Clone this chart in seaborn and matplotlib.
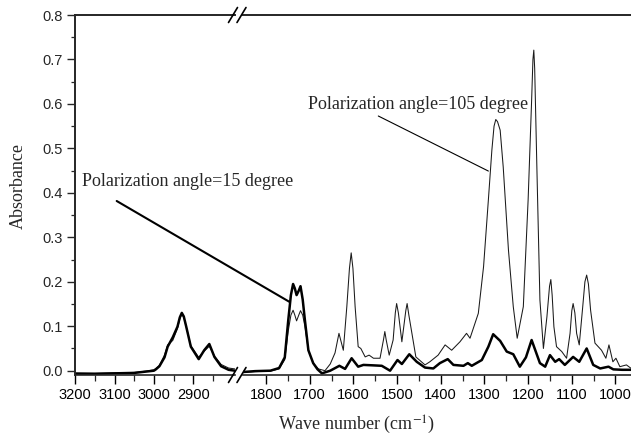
import numpy as np
import pandas as pd
import matplotlib
matplotlib.use("Agg")
import matplotlib.pyplot as plt
from matplotlib.lines import Line2D
from matplotlib.ticker import FixedLocator
import seaborn as sns

# ---------------- data ----------------
# high-wavenumber segment (C-H stretching region)
wn_left = [3200, 3150, 3100, 3050, 3020, 3000, 2995, 2986, 2973, 2965, 2952,
           2940, 2934, 2929, 2924, 2918, 2906, 2886, 2872, 2859, 2846, 2829,
           2810, 2794]
abs15_left = [-0.007, -0.007, -0.006, -0.005, -0.002, 0.0, 0.003, 0.01, 0.03,
              0.054, 0.075, 0.099, 0.12, 0.13, 0.122, 0.10, 0.054, 0.026,
              0.046, 0.06, 0.031, 0.01, 0.002, 0.0]
abs105_left = [-0.005, -0.006, -0.005, -0.004, -0.001, 0.002, 0.005, 0.012,
               0.035, 0.058, 0.068, 0.095, 0.117, 0.127, 0.12, 0.10, 0.056,
               0.03, 0.044, 0.055, 0.033, 0.014, 0.006, 0.004]

# fingerprint segment, 15 degree (thick line)
wn15_right = [1853, 1825, 1790, 1770, 1757, 1749, 1743, 1738, 1734, 1730,
              1725, 1721, 1716, 1711, 1703, 1692, 1682, 1672, 1653, 1632,
              1619, 1604, 1589, 1577, 1555, 1535, 1516, 1499, 1489, 1472,
              1455, 1436, 1417, 1402, 1384, 1371, 1348, 1338, 1329, 1306,
              1291, 1280, 1264, 1249, 1234, 1219, 1205, 1192, 1173, 1161,
              1150, 1138, 1129, 1116, 1097, 1083, 1066, 1051, 1035, 1016,
              1005, 985, 964]
abs15_right = [-0.003, -0.001, 0.0, 0.006, 0.03, 0.114, 0.17, 0.195, 0.185,
               0.17, 0.18, 0.19, 0.16, 0.114, 0.046, 0.017, 0.003, -0.006,
               0.0, 0.011, 0.004, 0.028, 0.009, 0.013, 0.012, 0.011, 0.0,
               0.024, 0.015, 0.037, 0.02, 0.007, 0.005, 0.017, 0.026, 0.013,
               0.011, 0.017, 0.011, 0.024, 0.054, 0.082, 0.067, 0.043, 0.037,
               0.009, 0.03, 0.069, 0.017, 0.009, 0.035, 0.02, 0.026, 0.013,
               0.031, 0.02, 0.05, 0.013, 0.005, 0.009, 0.003, 0.002, 0.002]

# fingerprint segment, 105 degree (thin line)
wn105_right = [1853, 1825, 1790, 1770, 1757, 1749, 1743, 1738, 1734, 1730,
               1725, 1721, 1716, 1711, 1703, 1692, 1680, 1665, 1653, 1642,
               1633, 1623, 1615, 1609, 1605, 1601, 1596, 1589, 1583, 1573,
               1564, 1554, 1539, 1531, 1528, 1525, 1518, 1509, 1504, 1501,
               1497, 1489, 1480, 1477, 1473, 1466, 1457, 1436, 1425, 1406,
               1390, 1375, 1356, 1341, 1333, 1314, 1302, 1291, 1283, 1278,
               1274, 1270, 1264, 1257, 1245, 1234, 1225, 1211, 1200, 1192,
               1189, 1187, 1185, 1180, 1173, 1165, 1157, 1151, 1148, 1145,
               1141, 1135, 1123, 1112, 1104, 1100, 1097, 1093, 1089, 1083,
               1075, 1070, 1066, 1062, 1057, 1047, 1032, 1022, 1015, 1006,
               999, 990, 975, 964]
abs105_right = [-0.004, -0.002, -0.001, 0.004, 0.025, 0.09, 0.125, 0.136,
                0.125, 0.112, 0.125, 0.135, 0.125, 0.1, 0.046, 0.017, 0.004,
                0.0, 0.015, 0.04, 0.084, 0.046, 0.144, 0.23, 0.265, 0.23,
                0.144, 0.054, 0.05, 0.031, 0.035, 0.028, 0.028, 0.07, 0.088,
                0.07, 0.035, 0.069, 0.13, 0.151, 0.13, 0.065, 0.135, 0.151,
                0.125, 0.084, 0.031, 0.013, 0.02, 0.035, 0.058, 0.046, 0.065,
                0.084, 0.073, 0.129, 0.234, 0.384, 0.496, 0.55, 0.565, 0.56,
                0.541, 0.458, 0.271, 0.144, 0.073, 0.144, 0.384, 0.608, 0.70,
                0.721, 0.68, 0.458, 0.159, 0.05, 0.121, 0.19, 0.205, 0.17,
                0.099, 0.054, 0.043, 0.028, 0.084, 0.135, 0.151, 0.13, 0.084,
                0.058, 0.144, 0.20, 0.215, 0.195, 0.136, 0.062, 0.046, 0.028,
                0.058, 0.02, 0.028, 0.009, 0.013, 0.005]

left_major = [3200, 3100, 3000, 2900]
left_minor = [3150, 3050, 2950, 2850]
right_major = [1800, 1700, 1600, 1500, 1400, 1300, 1200, 1100, 1000]
right_minor = [1750, 1650, 1550, 1450, 1350, 1250, 1150, 1050]
y_major = [0.0, 0.1, 0.2, 0.3, 0.4, 0.5, 0.6, 0.7, 0.8]
y_minor = [0.05, 0.15, 0.25, 0.35, 0.45, 0.55, 0.65, 0.75]

label15 = "Polarization angle=15 degree"
label105 = "Polarization angle=105 degree"

# ---------------- styling ----------------
sns.set_theme(style="ticks")
plt.rcParams["font.family"] = ["Liberation Sans", "DejaVu Sans"]
plt.rcParams["mathtext.fontset"] = "stix"
SERIF = ["Liberation Serif", "DejaVu Serif"]

W, H = 631, 436
fig = plt.figure(figsize=(W / 100, H / 100), dpi=100)
fig.patch.set_facecolor("white")

def fx(px):
    return px / W

def fy(py):
    return 1 - py / H

y_top_px, y_bot_px = 15, 375
ax1 = fig.add_axes([fx(75.3), fy(y_bot_px), fx(235 - 75.3), (y_bot_px - y_top_px) / H])
ax2 = fig.add_axes([fx(243), fy(y_bot_px), fx(W - 243), (y_bot_px - y_top_px) / H])

thick = dict(color="black", linewidth=1.8)
thin = dict(color="#1a1a1a", linewidth=0.75)

sns.lineplot(x=wn_left, y=abs105_left, ax=ax1, sort=False, estimator=None, **thin)
sns.lineplot(x=wn_left, y=abs15_left, ax=ax1, sort=False, estimator=None, **thick)
sns.lineplot(x=wn105_right, y=abs105_right, ax=ax2, sort=False, estimator=None, **thin)
sns.lineplot(x=wn15_right, y=abs15_right, ax=ax2, sort=False, estimator=None, **thick)

ymin, ymax = -0.0097, 0.8
ax1.set_xlim(3200, 3200 - (235 - 75.3) / 0.393)
ax2.set_xlim(1800 + (266 - 243) * 2.289, 1800 - (W - 266) * 2.289)
for ax in (ax1, ax2):
    ax.set_ylim(ymin, ymax)
    ax.set_facecolor("white")
    ax.set_xlabel("")
    ax.set_ylabel("")
    ax.spines["right"].set_visible(False)
    ax.spines["top"].set_linewidth(1.4)
    ax.spines["bottom"].set_linewidth(1.2)
    ax.tick_params(axis="x", which="major", length=6.5, width=1.0, direction="out",
                   labelsize=10.5, pad=3, colors="black")
    ax.tick_params(axis="x", which="minor", length=4, width=0.9, direction="out")

ax1.spines["left"].set_linewidth(1.4)
ax2.spines["left"].set_visible(False)

ax1.xaxis.set_major_locator(FixedLocator(left_major))
ax1.xaxis.set_minor_locator(FixedLocator(left_minor))
ax1.set_xticklabels([str(v) for v in left_major])
ax2.xaxis.set_major_locator(FixedLocator(right_major))
ax2.xaxis.set_minor_locator(FixedLocator(right_minor))
ax2.set_xticklabels([str(v) for v in right_major])

ax1.yaxis.set_major_locator(FixedLocator(y_major))
ax1.yaxis.set_minor_locator(FixedLocator(y_minor))
ax1.set_yticklabels([f"{v:.1f}" for v in y_major])
ax1.tick_params(axis="y", which="major", length=6, width=1.0, direction="out",
                labelsize=10.5, pad=3)
ax1.tick_params(axis="y", which="minor", length=3, width=0.9, direction="out")
ax2.tick_params(axis="y", which="both", left=False, labelleft=False)

# axis titles
fig.text(fx(18), fy(186), "Absorbance", rotation=90, ha="center", va="center",
         fontsize=13, family=SERIF)
fig.text(fx(357), fy(425), "Wave number (cm$^{-1}$)", ha="center", va="center",
         fontsize=13, family=SERIF)

# annotations
fig.text(fx(82), fy(186), label15, ha="left", va="baseline", fontsize=13, family=SERIF)
fig.text(fx(308), fy(109), label105, ha="left", va="baseline", fontsize=13, family=SERIF)
ax2.annotate("", xy=(1746.7, 0.155), xycoords="data",
             xytext=(116.7, H - 201), textcoords="figure pixels",
             arrowprops=dict(arrowstyle="-", color="black", lw=1.5,
                             shrinkA=0, shrinkB=0), annotation_clip=False)
ax2.annotate("", xy=(1291, 0.449), xycoords="data",
             xytext=(378.3, H - 116), textcoords="figure pixels",
             arrowprops=dict(arrowstyle="-", color="black", lw=0.8,
                             shrinkA=0, shrinkB=0), annotation_clip=False)

# axis-break marks
for yc in (y_top_px, y_bot_px):
    for xc in (233, 241.5):
        fig.add_artist(Line2D([fx(xc - 4.5), fx(xc + 4.5)], [fy(yc + 7.5), fy(yc - 7.5)],
                              color="black", lw=1.2))

fig.savefig("out.png", dpi=100, facecolor="white")
